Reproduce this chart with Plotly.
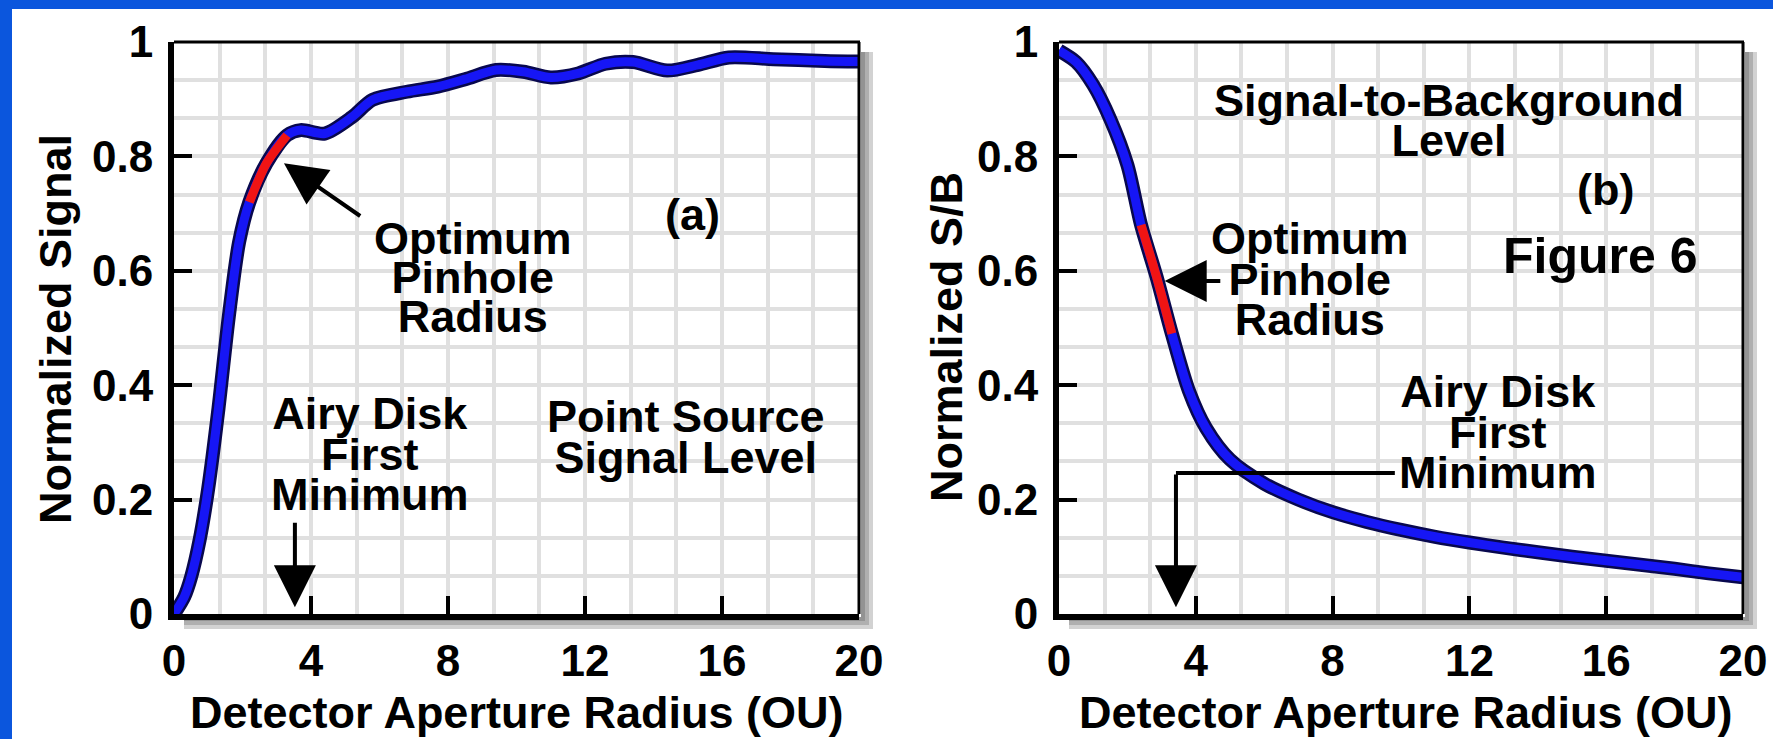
import plotly.graph_objects as go

W, H = 1773, 739
FONT = "Liberation Sans, Arial, Helvetica, sans-serif"

# ---------------- data ----------------
# (a) Normalized signal vs detector aperture radius
radius_a = [0, 0.3, 0.5, 0.75, 1.0, 1.3, 1.6, 1.9, 2.2, 2.7, 3.3, 3.7, 4.4, 5.2, 5.8,
            6.8, 7.7, 8.5, 9.4, 10.2, 11.0, 11.8, 12.6, 13.4, 14.4, 15.3, 16.2, 17.5, 19.0, 20.0]
signal_a = [0, 0.03, 0.065, 0.13, 0.22, 0.36, 0.52, 0.65, 0.72, 0.788, 0.837, 0.846, 0.84, 0.869, 0.899,
            0.913, 0.922, 0.935, 0.951, 0.948, 0.938, 0.945, 0.962, 0.965, 0.950, 0.960, 0.973, 0.970, 0.967, 0.966]
optimum_a = (8, 11)   # index range of the highlighted (red) segment

# (b) Normalized signal-to-background vs detector aperture radius
radius_b = [0, 0.5, 1.0, 1.5, 2.0, 2.4, 2.85, 3.3, 3.8, 4.3, 5.0, 6.0, 7.0, 8.0, 9.0,
            10.0, 11.0, 12.0, 13.0, 14.0, 15.0, 16.0, 17.0, 18.0, 19.0, 20.0]
sb_b = [0.985, 0.965, 0.925, 0.865, 0.785, 0.68, 0.59, 0.49, 0.39, 0.325, 0.27, 0.228, 0.20, 0.178, 0.161,
        0.147, 0.135, 0.125, 0.116, 0.108, 0.100, 0.093, 0.086, 0.079, 0.071, 0.064]
optimum_b = (5, 8)

x_ticks = [0, 4, 8, 12, 16, 20]
y_ticks = [0, 0.2, 0.4, 0.6, 0.8, 1]
airy_first_min_a = 3.53
airy_first_min_b = 3.42

# ---------------- layout geometry (pixels) ----------------
L1, R1 = 174, 859
L2, R2 = 1059, 1743
T, B = 42, 614


def px(x):
    return x / W


def py(y):
    return 1 - y / H


BLUE = "#1616f5"
DARK = "#08084e"
RED = "#f01414"
GRID = "#e0e0e0"

fig = go.Figure()


def add_curve(xs, ys, seg, xa, ya):
    fig.add_trace(go.Scatter(x=xs, y=ys, mode="lines", xaxis=xa, yaxis=ya,
                             line=dict(color=DARK, width=14, shape="spline", smoothing=0.8),
                             hoverinfo="skip", showlegend=False))
    fig.add_trace(go.Scatter(x=xs, y=ys, mode="lines", xaxis=xa, yaxis=ya,
                             line=dict(color=BLUE, width=9, shape="spline", smoothing=0.8),
                             showlegend=False))
    a, b = seg
    fig.add_trace(go.Scatter(x=xs[a:b], y=ys[a:b], mode="lines", xaxis=xa, yaxis=ya,
                             line=dict(color=RED, width=9, shape="spline", smoothing=0.8),
                             showlegend=False))


add_curve(radius_a, signal_a, optimum_a, "x", "y")
add_curve(radius_b, sb_b, optimum_b, "x2", "y2")

axis_common = dict(
    showline=True, linewidth=6, linecolor="black",
    ticks="inside", ticklen=18, tickwidth=4, tickcolor="black",
    showgrid=True, gridcolor=GRID, gridwidth=4,
    zeroline=False, automargin=False,
    tickfont=dict(family=FONT, size=44, color="black", weight="bold"),
)


def xaxis(dom, anchor):
    return dict(domain=dom, range=[0, 20], anchor=anchor,
                tickmode="array", tickvals=x_ticks, ticklabelstandoff=3,
                minor=dict(dtick=4 / 3, tick0=0, showgrid=True, gridcolor=GRID, gridwidth=4, ticks=""),
                **axis_common)


def yaxis(anchor):
    return dict(domain=[py(B), py(T)], range=[0, 1], anchor=anchor,
                tickmode="array", tickvals=y_ticks, ticklabelstandoff=6,
                minor=dict(dtick=1 / 15, tick0=0, showgrid=True, gridcolor=GRID, gridwidth=4, ticks=""),
                **axis_common)


fig.update_layout(
    template="none",
    width=W, height=H, margin=dict(l=0, r=0, t=0, b=0, pad=0), autosize=False,
    paper_bgcolor="white", plot_bgcolor="white", showlegend=False,
    xaxis=xaxis([px(L1), px(R1)], "y"),
    yaxis=yaxis("x"),
    xaxis2=xaxis([px(L2), px(R2)], "y2"),
    yaxis2=yaxis("x2"),
)

shapes = []
# blue page border
shapes.append(dict(type="rect", xref="paper", yref="paper", x0=0, x1=1, y0=py(9), y1=1,
                   fillcolor="#0b56dd", line=dict(width=0), layer="above"))
shapes.append(dict(type="rect", xref="paper", yref="paper", x0=0, x1=px(12), y0=0, y1=1,
                   fillcolor="#0b56dd", line=dict(width=0), layer="above"))
for L, R in ((L1, R1), (L2, R2)):
    # drop shadows (right and bottom)
    for k in (4, 8, 12):
        shapes.append(dict(type="rect", xref="paper", yref="paper",
                           x0=px(R + 2), x1=px(R + 2 + k), y0=py(B + 3 + k), y1=py(T + 10),
                           fillcolor="#303030", opacity=0.22, line=dict(width=0), layer="below"))
        shapes.append(dict(type="rect", xref="paper", yref="paper",
                           x0=px(L + 10), x1=px(R + 2), y0=py(B + 3 + k), y1=py(B + 3),
                           fillcolor="#303030", opacity=0.22, line=dict(width=0), layer="below"))
    # thin top and right frame
    shapes.append(dict(type="line", xref="paper", yref="paper", x0=px(L), x1=px(R + 1), y0=py(T), y1=py(T),
                       line=dict(color="black", width=3), layer="above"))
    shapes.append(dict(type="line", xref="paper", yref="paper", x0=px(R), x1=px(R), y0=py(T), y1=py(B),
                       line=dict(color="black", width=3), layer="above"))

# Airy-disk bracket in panel (b)
shapes.append(dict(type="line", xref="x2", yref="y2", x0=9.82, x1=airy_first_min_b, y0=0.2465, y1=0.2465,
                   line=dict(color="black", width=4), layer="above"))
fig.update_layout(shapes=shapes)

ann = []


def txt(s, xp, yp, size=45, angle=0):
    ann.append(dict(text=s, x=px(xp), y=py(yp), xref="paper", yref="paper",
                    xanchor="center", yanchor="middle", showarrow=False, textangle=angle,
                    font=dict(family=FONT, size=size, color="black", weight="bold")))


def block(lines, xp, yp, spacing, size=45):
    """Tightly stacked multi-line label: line pitch set by the base font size,
    glyphs drawn at `size`."""
    body = "<br>".join(f"<span style='font-size:{size}px'>{ln}</span>" for ln in lines)
    ann.append(dict(text=body, x=px(xp), y=py(yp), xref="paper", yref="paper",
                    xanchor="center", yanchor="middle", showarrow=False, align="center",
                    font=dict(family=FONT, size=spacing / 1.3, color="black", weight="bold")))


def arrow(xa, ya, x, y, tx, ty):
    ann.append(dict(text="", x=x, y=y, xref=xa, yref=ya, ax=tx, ay=ty, axref=xa, ayref=ya,
                    showarrow=True, arrowhead=2, arrowsize=2.1, arrowwidth=4, arrowcolor="black",
                    standoff=0, startstandoff=0))


# axis titles
txt("Normalized Signal", 55, 329, angle=-90)
txt("Normalized S/B", 947, 337, angle=-90)
txt("Detector Aperture Radius (OU)", 516, 712)
txt("Detector Aperture Radius (OU)", 1405, 712)

# panel (a) labels
block(["Optimum", "Pinhole", "Radius"], 473, 277, 39)
txt("(a)", 692, 214)
block(["Airy Disk", "First", "Minimum"], 370, 454, 40.5)
block(["Point Source", "Signal Level"], 686, 437.5, 41)
arrow("x", "y", 3.21, 0.788, 5.48, 0.694)
arrow("x", "y", airy_first_min_a, 0.012, airy_first_min_a, 0.162)

# panel (b) labels
block(["Signal-to-Background", "Level"], 1449, 121, 40)
txt("(b)", 1605, 190)
block(["Optimum", "Pinhole", "Radius"], 1310, 279, 40.5)
txt("Figure 6", 1600, 256, size=50)
block(["Airy Disk", "First", "Minimum"], 1498, 431.5, 40.5)
arrow("x2", "y2", 3.09, 0.582, 4.76, 0.582)
arrow("x2", "y2", airy_first_min_b, 0.012, airy_first_min_b, 0.2465)

fig.update_layout(annotations=ann)
fig.write_html("out.html", config={"displayModeBar": False},
               post_script="document.body.style.margin='0';document.body.style.overflow='hidden';")
